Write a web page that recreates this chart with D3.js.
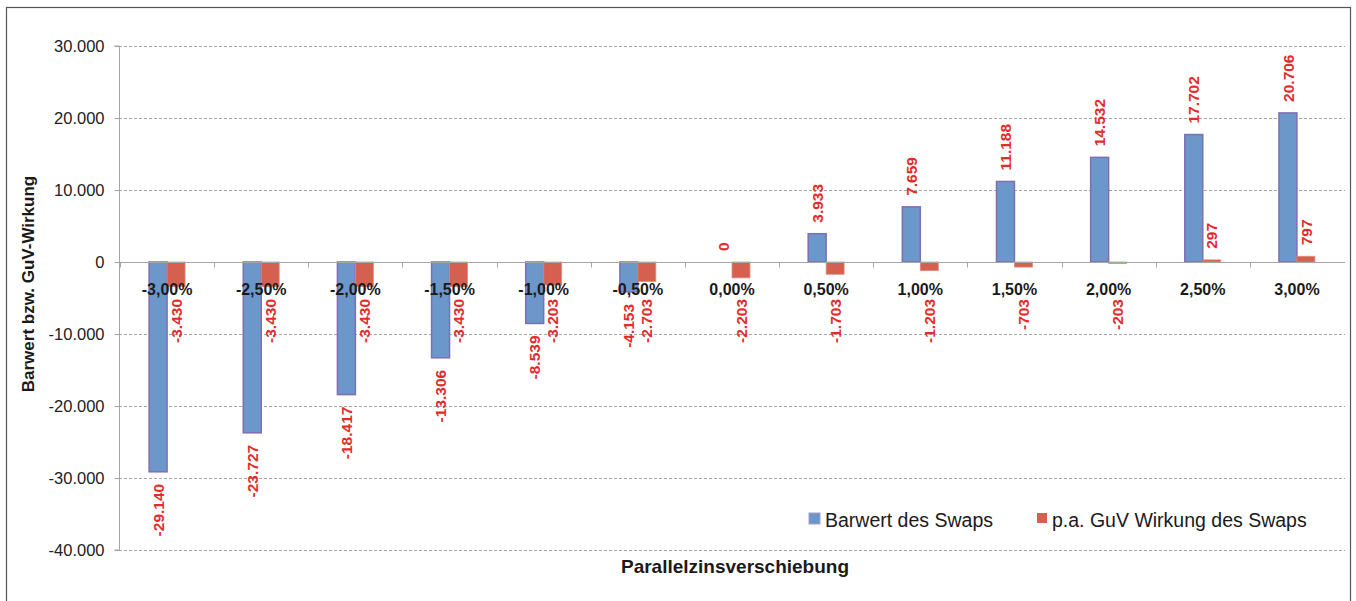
<!DOCTYPE html>
<html>
<head>
<meta charset="utf-8">
<script src="https://d3js.org/d3.v7.min.js"></script>
<style>
  body { margin: 0; background: #fff; }
  svg { font-family: "Liberation Sans", Arial, sans-serif; }
</style>
</head>
<body>
<div id="chart"></div>
<script>
var width = 1356;
var height = 601;

// data
var categories = ["-3,00%", "-2,50%", "-2,00%", "-1,50%", "-1,00%", "-0,50%", "0,00%",
  "0,50%", "1,00%", "1,50%", "2,00%", "2,50%", "3,00%"];
var barwert = [-29140, -23727, -18417, -13306, -8539, -4153, 0, 3933, 7659, 11188, 14532, 17702, 20706];
var guv = [-3430, -3430, -3430, -3430, -3203, -2703, -2203, -1703, -1203, -703, -203, 297, 797];
var seriesNames = ["Barwert des Swaps", "p.a. GuV Wirkung des Swaps"];
var yTicks = [-40000, -30000, -20000, -10000, 0, 10000, 20000, 30000];

var fills = ["#6b97cb", "#d6604f"];
var strokes = ["#7f6fb2", "#e08a7c"];
var labelColor = "#e32b2b";

// German number format, plain hyphen for minus
var fmt = function (v) {
  return d3.format(",")(v).replace(/,/g, ".").replace("\u2212", "-");
};

var svg = d3.select("#chart")
  .append("svg")
  .attr("width", width)
  .attr("height", height);

// outer frame
svg.append("rect")
  .attr("x", 6.5)
  .attr("y", 7.5)
  .attr("width", 1344)
  .attr("height", 600)
  .attr("fill", "none")
  .attr("stroke", "#555")
  .attr("stroke-width", 1.2);

var xScale = d3.scaleBand().domain(categories).range([120, 1344]).padding(0);
var x1 = d3.scaleBand().domain([0, 1]).range([0, xScale.bandwidth()]).paddingInner(0).paddingOuter(1.62);
var yScale = d3.scaleLinear().domain([-40000, 30000]).range([550, 46]);

// gridlines
svg.append("g")
  .selectAll("line")
  .data(yTicks.filter(function (d) { return d !== 0; }))
  .enter()
  .append("line")
  .attr("x1", 119)
  .attr("x2", 1345)
  .attr("y1", function (d) { return Math.round(yScale(d)) + 0.5; })
  .attr("y2", function (d) { return Math.round(yScale(d)) + 0.5; })
  .attr("stroke", "#a6a6a6")
  .attr("stroke-dasharray", "3,2");

// y axis
var yAxis = d3.axisLeft(yScale)
  .tickValues(yTicks)
  .tickSize(5)
  .tickPadding(10)
  .tickFormat(fmt);

var yG = svg.append("g")
  .attr("transform", "translate(119.5,0)")
  .call(yAxis);
yG.select(".domain").attr("stroke", "#a6a6a6").attr("d", "M-5," + yScale(30000) + "H0V" + yScale(-40000) + "H-5");
yG.selectAll(".tick line").attr("stroke", "#a6a6a6");
yG.selectAll(".tick text")
  .attr("font-size", "16.5px")
  .attr("fill", "#222")
  .attr("font-family", "Liberation Sans, Arial, sans-serif");

// bars
var series = [barwert, guv];
var rows = [];
categories.forEach(function (c, i) {
  series.forEach(function (s, j) {
    rows.push({ cat: c, s: j, v: s[i] });
  });
});

svg.append("g")
  .selectAll("rect")
  .data(rows.filter(function (d) { return d.v !== 0; }))
  .enter()
  .append("rect")
  .attr("x", function (d) { return xScale(d.cat) + x1(d.s); })
  .attr("width", x1.bandwidth())
  .attr("y", function (d) { return yScale(Math.max(0, d.v)); })
  .attr("height", function (d) { return Math.abs(yScale(d.v) - yScale(0)); })
  .attr("fill", function (d) { return fills[d.s]; })
  .attr("stroke", function (d) { return strokes[d.s]; })
  .attr("stroke-width", function (d) { return d.s === 0 ? 1.5 : 0.8; });

// zero line with category ticks
var y0 = Math.round(yScale(0)) + 0.5;
svg.append("line")
  .attr("x1", 119)
  .attr("x2", 1345)
  .attr("y1", y0)
  .attr("y2", y0)
  .attr("stroke", "#a6a6a6")
  .attr("stroke-width", 1.2);

svg.append("g")
  .selectAll("line")
  .data(categories)
  .enter()
  .append("line")
  .attr("x1", function (d) { return Math.round(xScale(d)) + 0.5; })
  .attr("x2", function (d) { return Math.round(xScale(d)) + 0.5; })
  .attr("y1", y0)
  .attr("y2", y0 + 5)
  .attr("stroke", "#a6a6a6");

// category labels
svg.append("g")
  .selectAll("text")
  .data(categories)
  .enter()
  .append("text")
  .attr("x", function (d) { return xScale(d) + xScale.bandwidth() / 2; })
  .attr("y", 295)
  .attr("text-anchor", "middle")
  .attr("font-size", "16px")
  .attr("font-weight", "bold")
  .attr("fill", "#1a1a1a")
  .text(function (d) { return d; });

// data labels (negative ones are kept below the category labels)
svg.append("g")
  .selectAll("text")
  .data(rows)
  .enter()
  .append("text")
  .attr("transform", function (d) {
    var cx = xScale(d.cat) + x1(d.s) + x1.bandwidth() / 2;
    var yy = d.v >= 0 ? yScale(d.v) - 11 : Math.max(yScale(d.v) + 12, 299);
    return "translate(" + cx + "," + yy + ") rotate(-90)";
  })
  .attr("dy", "0.36em")
  .attr("text-anchor", function (d) { return d.v >= 0 ? "start" : "end"; })
  .attr("font-size", "15.5px")
  .attr("font-weight", "bold")
  .attr("fill", labelColor)
  .text(function (d) { return fmt(d.v); });

// axis titles
svg.append("text")
  .attr("transform", "translate(34,284) rotate(-90)")
  .attr("text-anchor", "middle")
  .attr("font-size", "17px")
  .attr("font-weight", "bold")
  .attr("fill", "#1a1a1a")
  .text("Barwert bzw. GuV-Wirkung");

svg.append("text")
  .attr("x", 735)
  .attr("y", 573)
  .attr("text-anchor", "middle")
  .attr("font-size", "19px")
  .attr("font-weight", "bold")
  .attr("fill", "#1a1a1a")
  .text("Parallelzinsverschiebung");

// legend
var legendX = [809, 1037];
var legend = svg.append("g")
  .selectAll("g")
  .data(seriesNames)
  .enter()
  .append("g")
  .attr("transform", function (d, i) { return "translate(" + legendX[i] + ",513)"; });

legend.append("rect")
  .attr("width", function (d, i) { return i === 0 ? 11 : 10; })
  .attr("height", function (d, i) { return i === 0 ? 11 : 10; })
  .attr("fill", function (d, i) { return fills[i]; })
  .attr("stroke", function (d, i) { return i === 0 ? "#a89cd0" : "none"; });

legend.append("text")
  .attr("x", function (d, i) { return i === 0 ? 16 : 15; })
  .attr("y", 14)
  .attr("font-size", "19.5px")
  .attr("fill", "#1a1a1a")
  .text(function (d) { return d; });
</script>
</body>
</html>
